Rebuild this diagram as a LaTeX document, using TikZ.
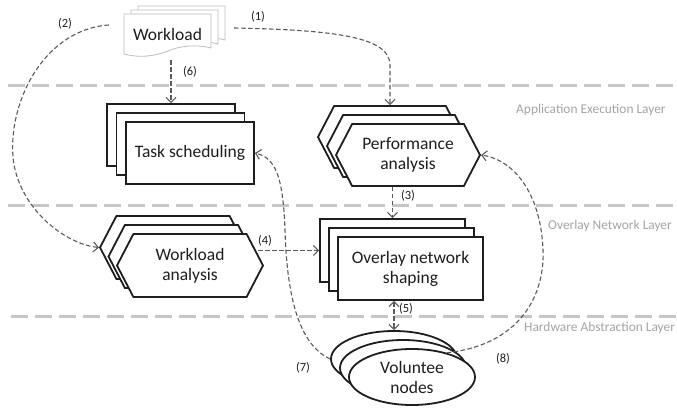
\documentclass[tikz,border=0pt]{standalone}
\usepackage{fontspec}
\setmainfont{Carlito}
\usetikzlibrary{arrows.meta,shapes.geometric,shapes.symbols,calc}
\definecolor{layergray}{HTML}{C6C6C6}
\definecolor{labelgray}{HTML}{A4A4A4}
\definecolor{arrowgray}{HTML}{5A5A5A}
\definecolor{pagegray}{HTML}{BDBDBD}
\definecolor{inkc}{HTML}{1E1E1E}
\newcommand{\docpage}[2]{%
  \draw[draw=pagegray, line width=0.8pt, fill=white, shift={(#1,#2)}]
    (124,14) -- (211,14) -- (211,48) .. controls (195,44) and (180,46) .. (168,51)
    .. controls (150,58) and (135,57) .. (124,54) -- cycle;}
\begin{document}
\begin{tikzpicture}[x=1pt,y=-1pt,
  >={Straight Barb[length=5pt,width=10pt]},
  shapetext/.style={font=\fontsize{17.5}{20}\selectfont, text=inkc, align=center},
  box/.style={shapetext, draw=inkc, line width=1.8pt, fill=white, rectangle,
    minimum width=128pt, minimum height=62pt, inner sep=0pt},
  hexbox/.style={shapetext, draw=inkc, line width=1.8pt, fill=white, shape=signal,
    signal to=west and east, signal pointer angle=125,
    minimum width=144pt, minimum height=62pt, inner sep=0pt},
  ellbox/.style={shapetext, draw=inkc, line width=1.8pt, fill=white, ellipse,
    minimum width=126pt, minimum height=56pt, inner sep=0pt},
  flow/.style={draw=arrowgray, line width=1.1pt, dash pattern=on 4.5pt off 2.5pt, ->},
  layerline/.style={draw=layergray, line width=3pt, dash pattern=on 17pt off 7pt},
  layerlabel/.style={text=labelgray, font=\fontsize{13.4}{15}\selectfont, anchor=west, inner sep=0pt},
  num/.style={font=\fontsize{12.5}{14}\selectfont, text=inkc, inner sep=0pt}
]
\useasboundingbox (0,0) rectangle (677,407);

% layer separators
\draw[layerline] (8,85) -- (677,85);
\draw[layerline] (8,205) -- (677,205);
\draw[layerline] (11,316) -- (677,316);
\node[layerlabel] (l1) at (516,110) {Application Execution Layer};
\node[layerlabel] (l2) at (548,226) {Overlay Network Layer};
\node[layerlabel] (l3) at (524,328) {Hardware Abstraction Layer};

% workload documents
\docpage{14}{-8}
\docpage{7}{-4}
\docpage{0}{0}
\node[shapetext, minimum width=87pt, minimum height=41pt, inner sep=0pt] (wl) at (167.5,34.5) {Workload};

% task scheduling
\node[box] (ts3) at (171,135) {};
\node[box] (ts2) at (180.5,144) {};
\node[box] (ts1) at (190,153) {Task scheduling};

% performance analysis
\node[hexbox] (pa3) at (390,137) {};
\node[hexbox] (pa2) at (399,146) {};
\node[hexbox] (pa1) at (408,155) {Performance\\analysis};

% workload analysis
\node[hexbox, minimum width=146pt, minimum height=63pt] (wa3) at (173,247.5) {};
\node[hexbox, minimum width=146pt, minimum height=63pt] (wa2) at (181.5,256.5) {};
\node[hexbox, minimum width=146pt, minimum height=63pt] (wa1) at (190,265.5) {Workload\\analysis};

% overlay network shaping
\node[box, minimum width=145pt, minimum height=63pt] (ov3) at (392.5,250.5) {};
\node[box, minimum width=145pt, minimum height=63pt] (ov2) at (401.5,259.5) {};
\node[box, minimum width=145pt, minimum height=63pt] (ov1) at (410.5,268.5) {Overlay network\\shaping};

% volunteer nodes
\node[ellbox] (vn3) at (394,359) {};
\node[ellbox] (vn2) at (403,368) {};
\node[ellbox] (vn1) at (412,377) {Voluntee\\nodes};

% connectors
\draw[flow] ($(wl.east)+(23,-6.5)$) .. controls (340,30) and (390,38) .. (390,65) -- (pa3.north);
\draw[flow] ($(wl.west)+(-15,-9.5)$) .. controls (40,30) and (5,110) .. (14,165)
   .. controls (24,215) and (70,245) .. (wa3.west);
\draw[flow] ($(ts3.north |- wl.south)+(0,5)$) -- (ts3.north);
\draw[flow] (ov3.north |- pa1.south) -- (ov3.north);
\draw[flow] ($(ov3.west -| wa1.east)+(-6,0)$) -- (ov3.west);
\draw[flow, <->] (ov1.south -| vn3.north) -- (vn3.north);
\draw[flow] (vn3.west) .. controls (300,345) and (287,300) .. (285,230)
   .. controls (283,175) and (275,158) .. (ts1.east);
\draw[flow] (vn1.35) .. controls (520,345) and (545,295) .. (543,250)
   .. controls (541,195) and (515,160) .. (pa1.east);

% connector labels
\node[num] (n1) at (258,17) {(1)};
\node[num] (n2) at (65,24) {(2)};
\node[num] (n3) at (408,196) {(3)};
\node[num] (n4) at (265,241) {(4)};
\node[num] (n5) at (406,309) {(5)};
\node[num] (n6) at (190,72) {(6)};
\node[num] (n7) at (303,368) {(7)};
\node[num] (n8) at (503,359) {(8)};
\end{tikzpicture}
\end{document}
